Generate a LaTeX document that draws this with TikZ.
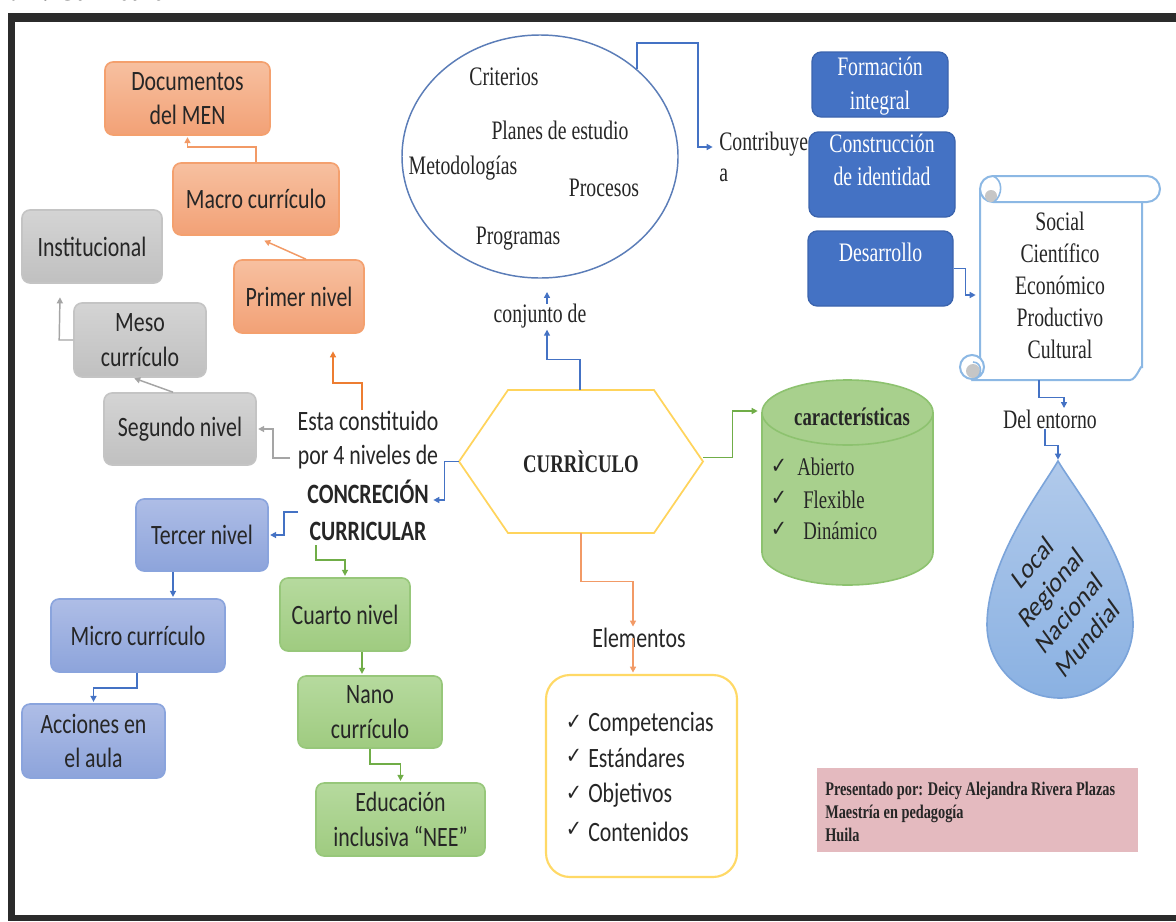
\documentclass[tikz,border=0pt]{standalone}
\usepackage{fontspec}
\setmainfont{Liberation Serif}[FakeStretch=0.74]
\newfontfamily\cfont{Carlito}[FakeStretch=0.78]
\newfontfamily\cfontn{Carlito}
\newfontfamily\ckfont{DejaVu Sans}[FakeStretch=0.85]
\usetikzlibrary{shapes.geometric,arrows.meta}
\definecolor{txt}{HTML}{262626}
\definecolor{orgtop}{HTML}{F7C0A0}
\definecolor{orgbot}{HTML}{F2A176}
\definecolor{orgline}{HTML}{F4A06E}
\definecolor{orgarr}{HTML}{F29A66}
\definecolor{orgdark}{HTML}{ED7D31}
\definecolor{grytop}{HTML}{D4D4D4}
\definecolor{grybot}{HTML}{C0C0C0}
\definecolor{gryline}{HTML}{C4C4C4}
\definecolor{gryarr}{HTML}{A5A5A5}
\definecolor{blutop}{HTML}{AEBDE6}
\definecolor{blubot}{HTML}{8DA4DB}
\definecolor{bluline}{HTML}{8AA4DD}
\definecolor{bluarr}{HTML}{4472C4}
\definecolor{grntop}{HTML}{B6DA9E}
\definecolor{grnbot}{HTML}{9FCB80}
\definecolor{grnline}{HTML}{97C77A}
\definecolor{grnarr}{HTML}{70AD47}
\definecolor{dblue}{HTML}{4472C4}
\definecolor{dbline}{HTML}{3B64AE}
\definecolor{ellline}{HTML}{5B7DB8}
\definecolor{hexline}{HTML}{FFD45C}
\definecolor{yelline}{HTML}{FFD966}
\definecolor{cylfill}{HTML}{A8D08D}
\definecolor{cylline}{HTML}{8DC26F}
\definecolor{scrline}{HTML}{8CB8E4}
\definecolor{droptop}{HTML}{B1CAEB}
\definecolor{dropbot}{HTML}{8AB1E2}
\definecolor{dropline}{HTML}{7BA4DA}
\definecolor{pinkbg}{HTML}{E4BABF}
\definecolor{framec}{HTML}{2B2B2B}
\begin{document}
\begin{tikzpicture}[x=0.75pt,y=-0.75pt,
  sz/.style 2 args={minimum width=#1*0.75pt, minimum height=#2*0.75pt},
  calf/.style={font=\cfont\fontsize{21}{26}\selectfont},
  serf/.style={font=\fontsize{20}{25}\selectfont},
  box/.style={rounded corners=6pt, line width=1.2pt, align=center, inner sep=0pt, calf, text=txt},
  obox/.style={box, draw=orgline, top color=orgtop, bottom color=orgbot},
  gbox/.style={box, draw=gryline, top color=grytop, bottom color=grybot},
  bbox/.style={box, draw=bluline, top color=blutop, bottom color=blubot},
  grbox/.style={box, draw=grnline, top color=grntop, bottom color=grnbot},
  dbbox/.style={rounded corners=7pt, draw=dbline, fill=dblue, line width=1pt, inner sep=0pt},
  cal/.style={calf, inner sep=0pt, text=txt, align=center},
  ser/.style={serf, inner sep=0pt, text=txt, align=center},
  wser/.style={serf, inner sep=0pt, text=white, align=center},
  ck/.style={font=\ckfont\fontsize{17}{20}\selectfont, inner sep=0pt, text=txt},
  conn/.style={line width=1.1pt, -{Triangle[length=4.5pt,width=4.5pt]}, shorten >=1pt},
  oarr/.style={conn, draw=orgarr},
  odarr/.style={conn, draw=orgdark},
  garr/.style={conn, draw=gryarr},
  barr/.style={conn, draw=bluarr},
  grarr/.style={conn, draw=grnarr},
  scr/.style={draw=scrline, fill=white, line width=1.5pt}
]
\useasboundingbox (0,0) rectangle (1176,921);
% frame
\fill[framec] (8,13) rectangle (1176,921);
\fill[white] (15,22) rectangle (1176,915);
\node[anchor=base east, font=\bfseries\itshape\fontsize{27}{30}\selectfont, inner sep=0pt, text=txt] (cap) at (167,0) {Figura 1. Currículo};

% orange
\node[obox, sz={165}{73}] (doc) at (187.5,98.5) {Documentos\\del MEN};
\node[obox, sz={166}{72}] (macro) at (256,199) {Macro currículo};
\node[obox, sz={130}{73}] (primer) at (299,296.5) {Primer nivel};
% gray
\node[gbox, sz={140}{73}] (inst) at (92,246.5) {Institucional};
\node[gbox, sz={132}{74}] (meso) at (140,340) {Meso\\currículo};
\node[gbox, sz={152}{72}] (seg) at (180,429) {Segundo nivel};
% blue
\node[bbox, sz={132}{72}] (ter) at (202,535) {Tercer nivel};
\node[bbox, sz={174}{73}] (micro) at (138,635.5) {Micro currículo};
\node[bbox, sz={143}{74}] (acc) at (93.5,741) {Acciones en\\el aula};
% green
\node[grbox, sz={130}{73}] (cuarto) at (345,614.5) {Cuarto nivel};
\node[grbox, sz={144}{72}] (nano) at (370,712) {Nano\\currículo};
\node[grbox, sz={169}{73}] (edu) at (400.5,819.5) {Educación\\inclusiva “NEE”};

% central texts
\node[cal] (esta) at (368,440) {Esta constituido\\por 4 niveles de};
\node[cal, font=\cfont\bfseries\fontsize{21}{28}\selectfont] (concr) at (368,510) {CONCRECIÓN\\CURRICULAR};

% connectors left
\draw[oarr] (macro.north) -- ++(0,-15) -| (doc.south);
\draw[oarr] ([xshift=7*0.75pt]primer.north) -- ([xshift=7*0.75pt]macro.south |- 0,240);
\coordinate (ptip) at (333,350);
\draw[odarr] (362,410) -- (362,383) -| (ptip);
\draw[garr] (meso.west) -- ++(-14,0) -- (60,296);
\draw[garr] ([xshift=-7*0.75pt]seg.north) -- ([xshift=-7*0.75pt]meso.south);
\coordinate (e1) at (290,458);
\draw[garr] (e1) -- ++(-17,0) |- (seg.east);
\coordinate (c1) at (432,500);
\coordinate (c2) at (298,512);
\coordinate (c3) at (316,545);
\draw[barr] (c2) -- ++(-14,0) |- (ter.east);
\draw[grarr] (c3) -- ++(0,15) -| (cuarto.north);
\draw[barr] ([xshift=-29*0.75pt]ter.south) -- ([xshift=35*0.75pt]micro.north);
\draw[barr] ([xshift=-1*0.75pt]micro.south) -- ++(0,15) -| (acc.north);
\draw[grarr] ([xshift=17*0.75pt]cuarto.south) -- ([xshift=-8*0.75pt]nano.north);
\draw[grarr] (nano.south) -- ++(0,15) -| (edu.north);

% ellipse
\node[ellipse, draw=ellline, line width=1.1pt, sz={276}{243}, inner sep=0pt] (ell) at (540,156.5) {};
\node[ser] (t1) at (504,77) {Criterios};
\node[ser] (t2) at (560,130) {Planes de estudio};
\node[ser] (t3) at (463,168) {Metodologías};
\node[ser] (t4) at (604,188) {Procesos};
\node[ser] (t5) at (518,239) {Programas};
\node[ser, anchor=west, align=left, font=\fontsize{20}{23}\selectfont] (contr) at (719,157) {Contribuye\\a};
\coordinate (ctip) at (714,147);
\draw[barr] (ell.42) |- (698,43) |- (ctip);
\node[ser] (conj) at (540,316) {conjunto de};

% hexagon
\draw[hexline, line width=1.3pt] (459,461.5) -- (508,390) -- (654,390) -- (703,461.5) -- (654,533) -- (508,533) -- cycle;
\node[font=\bfseries\fontsize{19}{22}\selectfont, sz={244}{143}, inner sep=0pt, text=txt] (hex) at (581,461.5) {CURRÌCULO};
\draw[barr] (hex.west) -- ++(-14,0) |- (c1);
\draw[barr] ([xshift=-1*0.75pt]hex.north) -- ++(0,-30) -| ([xshift=7*0.75pt]conj.south);
\draw[barr] ([xshift=7*0.75pt]conj.north) -- ++(0,-13);

% cylinder
\fill[cylfill] (762,412.5) -- (762,552.5) arc[start angle=180, end angle=0, x radius=85.5, y radius=32.5] -- (933,412.5) -- cycle;
\draw[cylline, line width=1.2pt] (762,412.5) -- (762,552.5) arc[start angle=180, end angle=0, x radius=85.5, y radius=32.5] -- (933,412.5);
\draw[cylline, fill=cylfill, line width=1.2pt] (847.5,412.5) ellipse[x radius=85.5, y radius=32.5];
\coordinate (cylin) at (759,411);
\draw[grarr] ([yshift=4*0.75pt]hex.east) -- ++(29,0) |- (cylin);
\node[font=\bfseries\fontsize{19}{22}\selectfont, inner sep=0pt, text=txt] (carac) at (852,417) {características};
\node[ck] (k1) at (779,466) {✓};
\node[ck] (k2) at (779,498) {✓};
\node[ck] (k3) at (779,529) {✓};
\node[ser, anchor=west, font=\fontsize{19}{22}\selectfont] (ab) at (797,467) {Abierto};
\node[ser, anchor=west, font=\fontsize{19}{22}\selectfont] (fl) at (803,500) {Flexible};
\node[ser, anchor=west, font=\fontsize{19}{22}\selectfont] (di) at (803,531) {Dinámico};

% elementos
\node[cal] (elem) at (639,638) {Elementos};
\draw[oarr] (hex.south) -- ++(0,48) -| ([xshift=-6*0.75pt]elem.north);
\node[draw=yelline, line width=1.6pt, rounded corners=18pt, sz={191}{202}, inner sep=0pt] (ebox) at (641.5,776) {};
\draw[oarr] ([xshift=-6*0.75pt]elem.center) -- ([xshift=-8.5*0.75pt]ebox.north);
\node[ck] (m1) at (574,722) {✓};
\node[ck] (m2) at (574,756) {✓};
\node[ck] (m3) at (574,793) {✓};
\node[ck] (m4) at (574,829) {✓};
\node[cal, anchor=west] (l1) at (588,724) {Competencias};
\node[cal, anchor=west] (l2) at (588,758) {Estándares};
\node[cal, anchor=west] (l3) at (588,795) {Objetivos};
\node[cal, anchor=west] (l4) at (588,832) {Contenidos};

% right dark blue boxes
\node[dbbox, sz={136}{65}] (form) at (880,84.5) {};
\node[wser, font=\fontsize{20}{25.5}\selectfont] (formt) at (880,86) {Formación\\integral};
\node[dbbox, sz={146}{85}] (cons) at (882,174.5) {};
\node[wser, font=\fontsize{20}{25}\selectfont] (const) at (882,160) {Construcción\\de identidad};
\node[dbbox, sz={145}{75}] (desa) at (880.5,268.5) {};
\node[wser] (desat) at (880.5,252) {Desarrollo};

% scroll
\filldraw[scr] (980,189) -- (980,372) -- (973,380) -- (1130,380) to[out=0,in=90] (1142,368) -- (1142,189) -- cycle;
\filldraw[scr] (972,367) circle[radius=12];
\fill[gray!45] (973,371) circle[radius=7];
\draw[scrline, line width=1.2pt] (973,362) .. controls (983,362) and (983,378) .. (973,379);
\filldraw[scr] (993,176) -- (1147,176) arc[start angle=-90, end angle=90, radius=13] -- (993,202) arc[start angle=90, end angle=270, radius=13] -- cycle;
\fill[gray!45] (991,196) circle[radius=6];
\draw[scrline, line width=1.2pt] (993,176) .. controls (1003,180) and (1003,195) .. (994,202);
\node[inner sep=0pt, sz={162}{204}] (scroll) at (1061,278) {};
\node[ser, font=\fontsize{20}{24}\selectfont] (scrt) at (1060,285) {Social\\Científico\\Económico\\Productivo\\Cultural};
\coordinate (scrin) at (977,295);
\draw[barr] (desa.east) -- ++(12,0) |- (scrin);

\node[ser] (dele) at (1050,419) {Del entorno};
\draw[barr] ([xshift=-22*0.75pt]scroll.south) -- ++(0,17) -| ([xshift=14*0.75pt]dele.north);

% drop
\filldraw[draw=dropline, line width=1.2pt, top color=droptop, bottom color=dropbot] (1058,461) .. controls (1075,490) and (1133,560) .. (1133,625) .. controls (1133,665.3) and (1100.3,698) .. (1060,698) .. controls (1019.7,698) and (987,665.3) .. (987,625) .. controls (987,560) and (1041,490) .. (1058,461) -- cycle;
\coordinate (drop) at (1058,461);
\draw[barr] ([xshift=-5*0.75pt]dele.south) -- ++(0,17) -| (drop);
\begin{scope}[shift={(1060,600)}]
\node[font=\cfontn\fontsize{22}{26}\selectfont, xscale=0.78, rotate=43, align=center, inner sep=0pt, text=txt] (dropt) at (0,0) {Local\\Regional\\Nacional\\Mundial};
\end{scope}

% pink box
\node[fill=pinkbg, sz={321}{84}, inner sep=0pt] (pbox) at (977.5,810) {};
\node[anchor=west, align=left, font=\bfseries\fontsize{14.5}{17}\selectfont, inner sep=0pt, text=txt] (ptext) at (825,812) {Presentado por: Deicy Alejandra Rivera Plazas\\Maestría en pedagogía\\Huila};
\end{tikzpicture}
\end{document}
